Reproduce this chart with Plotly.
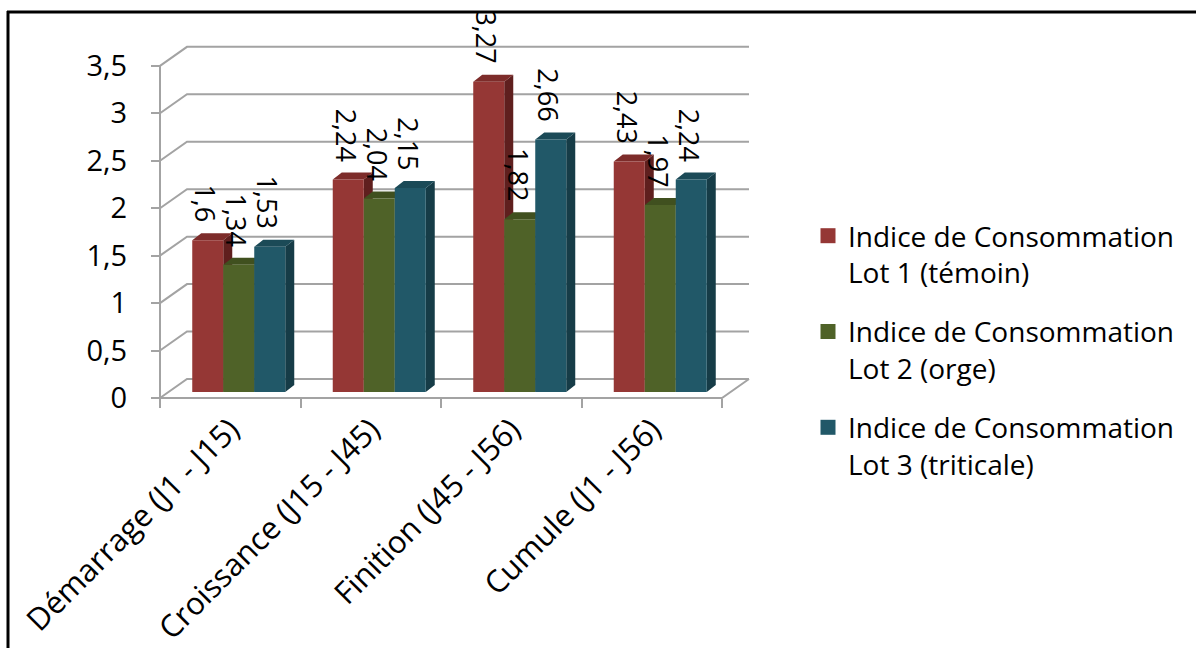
import plotly.graph_objects as go

# ---- data -------------------------------------------------------------
categories = [
    "Démarrage (J1 - J15)",
    "Croissance (J15 - J45)",
    "Finition (J45 - J56)",
    "Cumule (J1 - J56)",
]
series_names = [
    "Indice de Consommation<br>Lot 1 (témoin)",
    "Indice de Consommation<br>Lot 2 (orge)",
    "Indice de Consommation<br>Lot 3 (triticale)",
]
lot1 = [1.6, 2.24, 3.27, 2.43]
lot2 = [1.34, 2.04, 1.82, 1.97]
lot3 = [1.53, 2.15, 2.66, 2.24]
y_ticks = [0, 0.5, 1, 1.5, 2, 2.5, 3, 3.5]
y_ticktext = ["0", "0,5", "1", "1,5", "2", "2,5", "3", "3,5"]

series_values = [lot1, lot2, lot3]
# front / top / side colours of the pseudo-3D columns
front_colors = ["#953735", "#4f6228", "#215868"]
top_colors = ["#7d2c2a", "#40501f", "#1b4a57"]
side_colors = ["#5f1f1e", "#2f3b16", "#163c47"]

# ---- layout geometry --------------------------------------------------
W, H = 1196, 648
L, R, T, B = 150, 760, 38, 410          # plot area in pixels
AX_X, AX_Y = 160, 398                   # pixel of the front axes corner
PX_X = 140.5                            # pixels per category
PX_Y = 94.9                             # pixels per unit of value

x_range = [-0.5 - (AX_X - L) / PX_X, -0.5 + (R - AX_X) / PX_X]
y_range = [-(B - AX_Y) / PX_Y, (AX_Y - T) / PX_Y]

WALL_DX, WALL_DY = 27 / PX_X, 19 / PX_Y     # depth of the floor / back wall
FRONT_DX, FRONT_DY = 8.5 / PX_X, 6 / PX_Y   # columns sit a little behind the front edge
DX, DY = 9 / PX_X, 7 / PX_Y                 # column depth
BAR_W = 31 / PX_X
X_MIN, X_MAX = -0.5, len(categories) - 0.5

GRID = "#a3a3a3"
FONT = "'Open Sans', 'Noto Sans', sans-serif"

fig = go.Figure()

# back wall gridlines + floor
gx, gy = [], []
for t in y_ticks:
    gx += [X_MIN, X_MIN + WALL_DX, X_MAX + WALL_DX, None]
    gy += [t, t + WALL_DY, t + WALL_DY, None]
gx += [X_MIN, X_MAX, X_MAX + WALL_DX, None]
gy += [0, 0, WALL_DY, None]
fig.add_trace(go.Scatter(x=gx, y=gy, mode="lines", showlegend=False,
                         hoverinfo="skip", line=dict(color=GRID, width=2)))
# vertical value axis
fig.add_trace(go.Scatter(x=[X_MIN, X_MIN], y=[0, y_ticks[-1]], mode="lines",
                         showlegend=False, hoverinfo="skip",
                         line=dict(color=GRID, width=2)))


def faces(i, vals):
    fx, fy, tx, ty, sx, sy = [], [], [], [], [], []
    for j, v in enumerate(vals):
        x0 = j - 1.5 * BAR_W + i * BAR_W + FRONT_DX
        x1 = x0 + BAR_W
        b = FRONT_DY
        fx += [x0, x1, x1, x0, x0, None]
        fy += [b, b, b + v, b + v, b, None]
        tx += [x0, x1, x1 + DX, x0 + DX, x0, None]
        ty += [b + v, b + v, b + v + DY, b + v + DY, b + v, None]
        sx += [x1, x1 + DX, x1 + DX, x1, x1, None]
        sy += [b, b + DY, b + v + DY, b + v, b, None]
    return (fx, fy), (tx, ty), (sx, sy)


for i, vals in enumerate(series_values):
    (fx, fy), (tx, ty), (sx, sy) = faces(i, vals)
    for (xs, ys), col in (((sx, sy), side_colors[i]),
                          ((tx, ty), top_colors[i]),
                          ((fx, fy), front_colors[i])):
        fig.add_trace(go.Scatter(x=xs, y=ys, mode="lines", fill="toself",
                                 fillcolor=col, line=dict(width=0, color=col),
                                 showlegend=False, hoverinfo="skip"))
    # legend entry
    fig.add_trace(go.Scatter(x=[None], y=[None], mode="markers",
                             marker=dict(symbol="square", size=15,
                                         color=front_colors[i]),
                             name=series_names[i], legendgroup=f"lot{i+1}"))

# value labels, rotated
for i, vals in enumerate(series_values):
    for j, v in enumerate(vals):
        xc = j - 1.5 * BAR_W + (i + 0.5) * BAR_W + FRONT_DX
        fig.add_annotation(x=xc, y=v + FRONT_DY, text=str(v).replace(".", ","),
                           textangle=90, showarrow=False, yanchor="bottom",
                           xanchor="center", yshift=16, xshift=-2,
                           font=dict(family=FONT, size=27, color="#000000"))

# frame around the chart (left and top edges)
def px_to_paper_x(p):
    return (p - L) / (R - L)


def px_to_paper_y(p):
    return (B - p) / (B - T)


fig.add_shape(type="line", xref="paper", yref="paper",
              x0=px_to_paper_x(8), x1=px_to_paper_x(8),
              y0=px_to_paper_y(H + 5), y1=px_to_paper_y(11),
              line=dict(color="#000000", width=3))
fig.add_shape(type="line", xref="paper", yref="paper",
              x0=px_to_paper_x(7), x1=px_to_paper_x(W + 5),
              y0=px_to_paper_y(12), y1=px_to_paper_y(12),
              line=dict(color="#000000", width=3))

fig.update_layout(
    width=W, height=H,
    margin=dict(l=L, r=W - R, t=T, b=H - B, pad=0, autoexpand=False),
    paper_bgcolor="white", plot_bgcolor="white",
    font=dict(family=FONT, size=29, color="#000000"),
    showlegend=True,
    legend=dict(xref="container", yref="container",
                x=808 / W, y=1 - 211 / H, xanchor="left", yanchor="top",
                traceorder="grouped", tracegroupgap=20, valign="top",
                font=dict(family=FONT, size=28, color="#000000"),
                bgcolor="rgba(0,0,0,0)"),
    xaxis=dict(range=x_range, showgrid=False, zeroline=False, showline=False,
               automargin=False,
               tickmode="array", tickvals=list(range(len(categories))),
               ticktext=categories, tickangle=-45, ticks="",
               anchor="free", position=px_to_paper_y(AX_Y),
               ticklabelstandoff=6,
               minor=dict(tickmode="array",
                          tickvals=[k - 0.5 for k in range(len(categories) + 1)],
                          ticks="outside", ticklen=9, tickwidth=2,
                          tickcolor=GRID, showgrid=False),
               tickfont=dict(family=FONT, size=31, color="#000000"),
               fixedrange=True),
    yaxis=dict(range=y_range, showgrid=False, zeroline=False, showline=False,
               automargin=False,
               tickmode="array", tickvals=y_ticks, ticktext=y_ticktext,
               ticks="outside", ticklen=9, tickwidth=2, tickcolor=GRID,
               anchor="free", position=px_to_paper_x(AX_X),
               ticklabelstandoff=18,
               tickfont=dict(family=FONT, size=29, color="#000000"),
               fixedrange=True),
)

fig.write_html("out.html")
